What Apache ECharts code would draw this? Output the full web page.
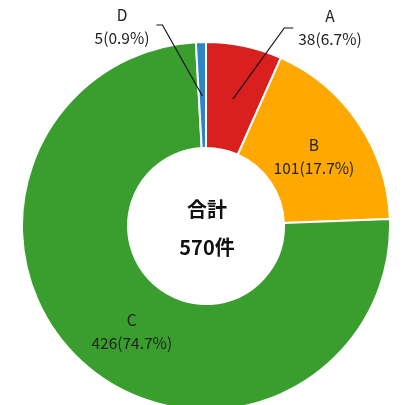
<!DOCTYPE html>
<html>
<head>
<meta charset="utf-8">
<script src="https://cdn.jsdelivr.net/npm/echarts@6/dist/echarts.min.js"></script>
<style>
  html, body { margin: 0; padding: 0; background: #fff; }
  #main { width: 404px; height: 405px; }
</style>
</head>
<body>
<div id="main"></div>
<script>
let categories = ["A", "B", "C", "D"]
let values = [38, 101, 426, 5]
let colors = ["#da1f1f", "#ffa800", "#3a9e2e", "#2c85c5"]
// which labels sit outside with a leader line
let outsideLabels = ["A", "D"]
// where the outside labels go (label centre, px)
let outsidePos = { A: [330, 28], D: [122, 27] }
// small nudges for the inside labels
let insideShift = { B: [-3, 6], C: [16, 7] }

let total = values.reduce((a, b) => a + b, 0)
let font = "'Noto Sans CJK JP', 'Noto Sans', sans-serif"

var myChart = echarts.init(document.getElementById('main'))

let mainData = categories.map((name, i) => ({
  name: name,
  value: values[i],
  itemStyle: { color: colors[i] },
  label: { show: outsideLabels.indexOf(name) < 0 }
}))

let guideData = categories.map((name, i) => ({
  name: name,
  value: values[i],
  label: { show: outsideLabels.indexOf(name) >= 0 },
  labelLine: { show: outsideLabels.indexOf(name) >= 0 }
}))

let labelStyle = {
  formatter: '{b}\n{c}({d}%)',
  color: '#222',
  fontSize: 15.5,
  lineHeight: 23,
  fontFamily: font
}

var option = {
  animation: false,
  graphic: [{
    type: 'text',
    silent: true,
    z: 10,
    style: {
      x: 207, y: 228,
      text: '合計\n' + total + '件',
      fill: '#111',
      font: 'bold 20px ' + font,
      lineHeight: 38,
      align: 'center',
      verticalAlign: 'middle'
    }
  }],
  series: [
    {
      type: 'pie',
      z: 2,
      center: [206, 226],
      radius: [78, 184],
      startAngle: 90,
      clockwise: true,
      percentPrecision: 1,
      avoidLabelOverlap: false,
      itemStyle: { borderColor: '#fff', borderWidth: 2 },
      label: Object.assign({ position: 'inside' }, labelStyle),
      labelLayout: function (p) {
        let s = insideShift[categories[p.dataIndex]]
        return s ? { dx: s[0], dy: s[1] } : {}
      },
      data: mainData
    },
    {
      // transparent copy, only used to anchor the leader lines inside the slices
      type: 'pie',
      z: 5,
      silent: true,
      center: [206, 226],
      radius: [0, 130],
      startAngle: 90,
      clockwise: true,
      percentPrecision: 1,
      avoidLabelOverlap: false,
      itemStyle: { color: 'rgba(0,0,0,0)' },
      label: Object.assign({ position: 'outside' }, labelStyle),
      labelLine: { lineStyle: { color: '#111', width: 1.2 } },
      labelLayout: function (p) {
        let name = categories[p.dataIndex]
        let pos = outsidePos[name]
        if (!pos || !p.labelLinePoints) return {}
        let w = p.labelRect.width
        let start = p.labelLinePoints[0]
        let pts
        if (name === 'A') {
          pts = [start, [pos[0] - w / 2 - 14, pos[1]], [pos[0] - w / 2 - 5, pos[1]]]
        } else {
          pts = [start, [pos[0] + w / 2 + 13, pos[1] - 2], [pos[0] + w / 2 + 7, pos[1] - 2]]
        }
        return {
          x: pos[0], y: pos[1],
          align: 'center', verticalAlign: 'middle',
          labelLinePoints: pts
        }
      },
      data: guideData
    }
  ]
}

myChart.setOption(option)
</script>
</body>
</html>
